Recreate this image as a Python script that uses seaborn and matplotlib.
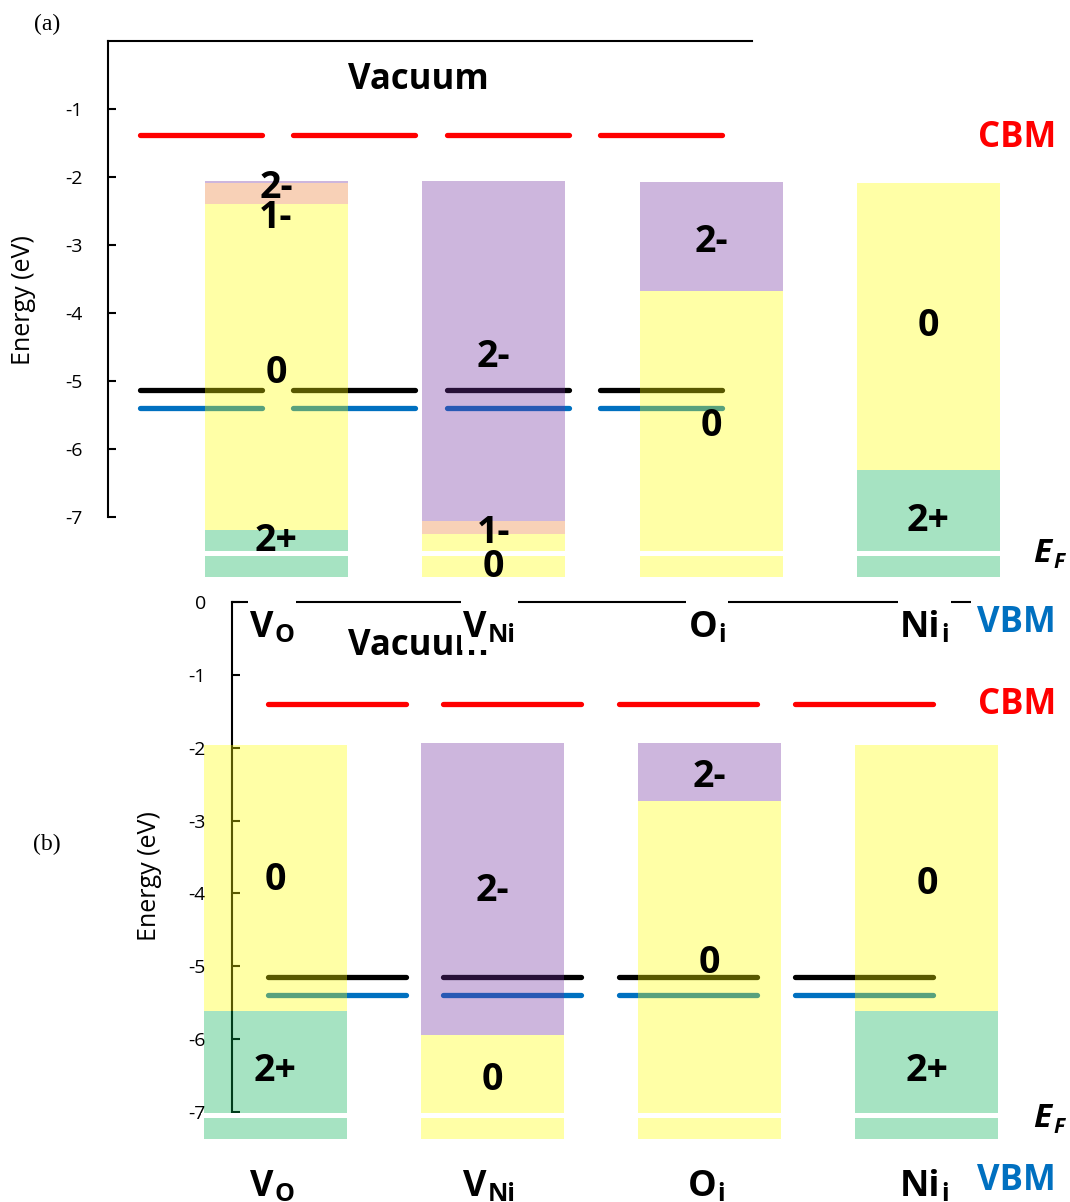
import numpy as np
import pandas as pd
import matplotlib.pyplot as plt
import seaborn as sns
from matplotlib.patches import Rectangle

sns.set_theme(style="white")
plt.rcParams['font.family'] = ['Open Sans', 'DejaVu Sans']
plt.rcParams['axes.unicode_minus'] = False
plt.rcParams['text.color'] = 'black'
plt.rcParams['ytick.color'] = 'black'
plt.rcParams['axes.labelcolor'] = 'black'

# ---------------- data ----------------
defect_main = ["V", "V", "O", "Ni"]
defect_sub = ["O", "Ni", "i", "i"]

# panel (a): charge states per defect (top -> bottom) and the upper energy of each band
a_charges = [["2-", "1-", "0", "2+"], ["2-", "1-", "0"], ["2-", "0"], ["0", "2+"]]
a_tops = [[-2.07, -2.10, -2.40, -7.20], [-2.07, -7.06, -7.26], [-2.08, -3.68], [-2.09, -6.31]]
a_bottom = -7.88
a_gap = (-7.50, -7.58)

# panel (b)
b_charges = [["0", "2+"], ["2-", "0"], ["2-", "0"], ["0", "2+"]]
b_tops = [[-1.96, -5.62], [-1.93, -5.94], [-1.93, -2.73], [-1.96, -5.62]]
b_bottom = -7.37
b_gap = (-7.02, -7.09)

levels = ["CBM", "EF", "VBM"]
a_level_E = [-1.39, -5.14, -5.40]
b_level_E = [-1.40, -5.15, -5.40]

charge_colors = {"2-": "#7030A0", "1-": "#ED7D31", "0": "#FFFF00", "2+": "#00B050"}
level_colors = {"CBM": "#FF0000", "EF": "#000000", "VBM": "#0070C0"}

# ---------------- layout (pixels) ----------------
W, H = 1070, 1202
lay_a = dict(y0=40.7, ppe=68.0, fx0=108, fx1=752, yticks=list(range(-7, 0)),
             c0=276, step=217.5, bw=143, s0=201, sstep=153.3, slen=122)
lay_b = dict(y0=602.3, ppe=72.8, fx0=231.7, fx1=1000, yticks=list(range(-7, 1)),
             c0=275, step=217.3, bw=143, s0=336.5, sstep=175.9, slen=138)

fig = plt.figure(figsize=(W / 100, H / 100), dpi=100)


def px_axes(x0, x1, y_top, y_bot):
    return fig.add_axes([x0 / W, 1 - y_bot / H, (x1 - x0) / W, (y_bot - y_top) / H])


def ptext(px, py, s, **kw):
    return fig.text(px / W, 1 - py / H, s, **kw)


def draw_panel(lay, tops_list, charges_list, bottom, gap, level_E, nudges):
    y_bot = lay['y0'] + 8 * lay['ppe']

    # frame: axis line, ticks, top line
    fr = px_axes(lay['fx0'], lay['fx1'], lay['y0'], y_bot)
    fr.patch.set_visible(False)
    fr.set_ylim(-8, 0)
    fr.set_xlim(0, 1)
    fr.set_xticks([])
    for s in ['right', 'bottom']:
        fr.spines[s].set_visible(False)
    for s in ['left', 'top']:
        fr.spines[s].set_linewidth(1.5)
        fr.spines[s].set_color('black')
    fr.spines['left'].set_bounds(-7, 0)
    fr.set_yticks(lay['yticks'])
    fr.set_yticklabels([str(t) for t in lay['yticks']])
    fr.tick_params(axis='y', left=True, direction='in', length=5.8, width=1.5,
                   pad=18.5, labelsize=14, colors='black')

    # overlay: bars, levels, charge labels
    ov = px_axes(0, W, lay['y0'], y_bot)
    ov.set_axis_off()
    step, c0 = lay['step'], lay['c0']
    bw = lay['bw'] / step

    seg_c = (lay['s0'] - c0) / step + np.arange(4) * lay['sstep'] / step
    half = lay['slen'] / step / 2
    rows = []
    for lev, e in zip(levels, level_E):
        for j, xc in enumerate(seg_c):
            rows.append(dict(level=lev, seg=f"{lev}{j}", x=xc - half, E=e))
            rows.append(dict(level=lev, seg=f"{lev}{j}", x=xc + half, E=e))
    df = pd.DataFrame(rows)
    sns.lineplot(data=df, x='x', y='E', hue='level', units='seg', estimator=None,
                 palette=level_colors, linewidth=3.8, solid_capstyle='round',
                 legend=False, sort=False, ax=ov, zorder=1)

    for k, (tops, chs) in enumerate(zip(tops_list, charges_list)):
        bots = tops[1:] + [bottom]
        for ch, t, b in zip(chs, tops, bots):
            ov.bar(k, t - b, bottom=b, width=bw, color=charge_colors[ch], alpha=0.35,
                   linewidth=0, zorder=2)
            ymid = (t + max(b, gap[0])) / 2 + nudges.get((k, ch), 0)
            ov.annotate(ch, (k, ymid), xytext=(0, -4), textcoords='offset points',
                        ha='center', va='center', fontsize=27, fontweight='bold',
                        color='black', zorder=4)
        ov.bar(k, gap[0] - gap[1], bottom=gap[1], width=bw * 1.03, color='white',
               linewidth=0, zorder=3)

    ov.set_xlim(-c0 / step, (W - c0) / step)
    ov.set_ylim(-8, 0)
    return fr, ov


fr_a, ov_a = draw_panel(lay_a, a_tops, a_charges, a_bottom, a_gap, a_level_E,
                        {(0, "1-"): -0.27, (0, "2+"): 0.08, (1, "0"): -0.28,
                         (3, "0"): 0.09, (3, "2+"): -0.08})
fr_b, ov_b = draw_panel(lay_b, b_tops, b_charges, b_bottom, b_gap, b_level_E,
                        {(0, "0"): 0.05, (1, "2-"): 0.05, (0, "2+"): -0.04, (3, "2+"): -0.04})

bold = dict(fontweight='bold')

# "Vacuum" labels (the one in (b) sits inside its axes so (a)'s labels cover it)
ptext(418, 80, "Vacuum", ha='center', va='center', fontsize=25, **bold)
ov_b.text(418 / W, 1 - 646 / H, "Vacuum", transform=fig.transFigure, ha='center',
          va='center', fontsize=25, **bold)

renderer = fig.canvas.get_renderer()


def sub_label(cx, base_y, main, sub, size=26, subsize=18, drop=5, color='black',
              cover=None):
    t1 = ptext(cx, base_y, main, ha='left', va='baseline', fontsize=size,
               color=color, zorder=5, **bold)
    bb1 = t1.get_window_extent(renderer)
    t2 = fig.text((bb1.x1 + 1) / W, 1 - (base_y + drop) / H, sub, ha='left',
                  va='baseline', fontsize=subsize, color=color, zorder=5, **bold)
    bb2 = t2.get_window_extent(renderer)
    shift = cx - (bb1.x0 + bb2.x1) / 2
    for t in (t1, t2):
        t.set_x(t.get_position()[0] + shift / W)
    if cover is not None:
        # white backing box that hides whatever lies beneath the label
        x0 = bb1.x0 + shift - cover[0]
        x1 = bb2.x1 + shift + cover[0]
        fig.add_artist(Rectangle((x0 / W, 1 - cover[2] / H), (x1 - x0) / W,
                                 (cover[2] - cover[1]) / H, transform=fig.transFigure,
                                 facecolor='white', edgecolor='none', zorder=4.5))


for k, (m, s) in enumerate(zip(defect_main, defect_sub)):
    sub_label(lay_a['c0'] + k * lay_a['step'] - 4, 637, m, s, cover=(2, 598, 650))
    sub_label(lay_b['c0'] + k * lay_b['step'] - 3, 1196, m, s)

# right-hand labels
for (cy_cbm, cy_vbm, by_ef) in [(138, 623, 562), (705, 1181, 1127)]:
    ptext(1017, cy_cbm, "CBM", ha='center', va='center', fontsize=25,
          color=level_colors["CBM"], **bold)
    ptext(1016, cy_vbm, "VBM", ha='center', va='center', fontsize=25,
          color=level_colors["VBM"], zorder=5,
          bbox=dict(facecolor='white', edgecolor='none', pad=4), **bold)
    ptext(1033, by_ef, "E", ha='left', va='baseline', fontsize=24, style='italic', **bold)
    ptext(1053, by_ef + 6, "F", ha='left', va='baseline', fontsize=15, style='italic', **bold)

# axis titles and panel tags
ptext(23.7, 300.5, "Energy (eV)", rotation=90, ha='center', va='center', fontsize=18)
ptext(149.8, 876.5, "Energy (eV)", rotation=90, ha='center', va='center', fontsize=18)
ptext(47, 24, "(a)", ha='center', va='center', fontsize=17, family='Liberation Serif')
ptext(47, 844, "(b)", ha='center', va='center', fontsize=17, family='Liberation Serif')

fig.savefig("out.png", dpi=100)
